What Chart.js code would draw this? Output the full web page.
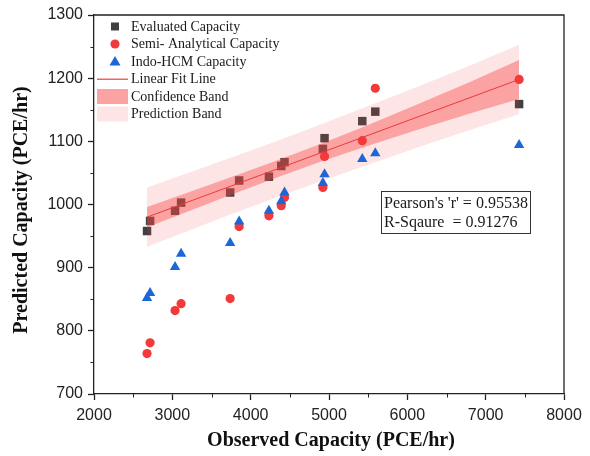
<!DOCTYPE html>
<html><head><meta charset="utf-8">
<script src="https://cdn.jsdelivr.net/npm/chart.js@4.4.0/dist/chart.umd.min.js"></script>
<style>html,body{margin:0;padding:0;background:#fff;}#wrap{width:590px;height:456px;}</style>
</head><body><div id="wrap"><canvas id="c" width="590" height="456"></canvas></div>
<script>
// Observed capacity (x) shared by all three series
const observed   = [2677, 2716, 3035, 3112, 3738, 3853, 4233, 4390, 4432, 4922, 4943, 5425, 5591, 7427];
const evaluated  = [958, 974, 990, 1003, 1019, 1038, 1044, 1061, 1067, 1088, 1105, 1132, 1147, 1159];
const semiAnalytical = [764, 781, 832, 843, 851, 965, 982, 998, 1011, 1027, 1076, 1101, 1184, 1198];
const indoHCM    = [852, 860, 901, 922, 939, 973, 990, 1005, 1019, 1034, 1048, 1072, 1081, 1094];
// Linear fit line and bands
const fitX = [2677, 7427];
const fitY = [980, 1198];
const bandX     = [2677, 3200, 3700, 4300, 4900, 5500, 6100, 6800, 7427];
const confUpper = [996, 1019, 1041, 1068, 1096, 1126, 1157, 1194, 1229];
const confLower = [964, 989, 1013, 1041, 1068, 1093, 1117, 1144, 1167];
const predUpper = [1027, 1050, 1072, 1099, 1127, 1156, 1185, 1220, 1253];
const predLower = [933, 958, 982, 1010, 1037, 1063, 1089, 1118, 1143];
const xTicks = {min: 2000, max: 8000, step: 1000};
const yTicks = {min: 700, max: 1300, step: 100};
const legendLabels = ['Evaluated Capacity', 'Semi- Analytical Capacity', 'Indo-HCM Capacity', 'Linear Fit Line', 'Confidence Band', 'Prediction Band'];
const statLines = ["Pearson's 'r' = 0.95538", "R-Sqaure  = 0.91276"];
const xTitle = 'Observed Capacity (PCE/hr)';
const yTitle = 'Predicted Capacity (PCE/hr)';

const C_EVAL = '#404040', C_SEMI = '#f23a3a', C_INDO = '#1d66d8', C_FIT = '#ec3a3a';
const C_CONF = 'rgba(245,70,70,0.42)', C_PRED = 'rgba(245,70,70,0.14)';
const pts = (xs, ys) => xs.map((x, i) => ({x, y: ys[i]}));
const AXIS = '#222';

const extras = {
  id: 'extras',
  afterDraw(chart) {
    const {ctx, chartArea: a, scales: {x: xs, y: ys}} = chart;
    ctx.save();
    ctx.strokeStyle = AXIS; ctx.lineWidth = 1.3;
    ctx.beginPath();
    ctx.moveTo(a.left, a.top); ctx.lineTo(a.right, a.top); ctx.lineTo(a.right, a.bottom);
    ctx.stroke();
    ctx.lineWidth = 1;
    ctx.beginPath();
    for (let v = xTicks.min + xTicks.step / 2; v < xTicks.max; v += xTicks.step) {
      const px = Math.round(xs.getPixelForValue(v)) + 0.5;
      ctx.moveTo(px, a.bottom); ctx.lineTo(px, a.bottom + 3.5);
    }
    for (let v = yTicks.min + yTicks.step / 2; v < yTicks.max; v += yTicks.step) {
      const py = Math.round(ys.getPixelForValue(v)) + 0.5;
      ctx.moveTo(a.left - 3.5, py); ctx.lineTo(a.left, py);
    }
    ctx.stroke();
    // axis titles
    ctx.fillStyle = '#111';
    ctx.font = 'bold 20px "Liberation Serif", "Times New Roman", serif';
    ctx.textAlign = 'center'; ctx.textBaseline = 'middle';
    ctx.fillText(xTitle, 331, 441);
    ctx.save(); ctx.translate(22, 210); ctx.rotate(-Math.PI / 2); ctx.fillText(yTitle, 0, 0); ctx.restore();
    // legend
    const rows = [26.5, 44, 61.5, 79, 96.5, 114];
    const sx = 115;
    ctx.fillStyle = C_EVAL; ctx.fillRect(sx - 4, rows[0] - 4, 8, 8);
    ctx.fillStyle = C_SEMI; ctx.beginPath(); ctx.arc(sx, rows[1], 4.6, 0, Math.PI * 2); ctx.fill();
    ctx.fillStyle = C_INDO; ctx.beginPath();
    ctx.moveTo(sx, rows[2] - 5.5); ctx.lineTo(sx + 5.5, rows[2] + 4); ctx.lineTo(sx - 5.5, rows[2] + 4); ctx.closePath(); ctx.fill();
    ctx.fillStyle = '#f26464'; ctx.fillRect(97, rows[3] - 0.5, 31, 1.5);
    ctx.fillStyle = C_PRED; ctx.fillRect(97, rows[4] - 7.5, 31, 15); ctx.fillStyle = C_CONF; ctx.fillRect(97, rows[4] - 7.5, 31, 15);
    ctx.fillStyle = C_PRED; ctx.fillRect(97, rows[5] - 7.5, 31, 15);
    ctx.fillStyle = '#1a1a1a';
    ctx.font = '14px "Liberation Serif", "Times New Roman", serif';
    ctx.textAlign = 'left';
    legendLabels.forEach((t, i) => ctx.fillText(t, 131, rows[i] + 0.5));
    // stats box
    ctx.strokeStyle = '#333'; ctx.lineWidth = 1;
    ctx.strokeRect(381.5, 191.5, 149, 42);
    ctx.font = '16px "Liberation Serif", "Times New Roman", serif';
    ctx.fillText(statLines[0], 384, 203.5);
    ctx.fillText(statLines[1], 384, 223);
    ctx.restore();
  }
};

const tickFont = {family: '"Liberation Sans", Arial, sans-serif', size: 16};
new Chart(document.getElementById('c'), {
  type: 'line',
  data: {
    datasets: [
      {label: 'Indo-HCM', data: pts(observed, indoHCM), showLine: false, pointStyle: 'triangle', pointRadius: 6, pointBackgroundColor: C_INDO, pointBorderWidth: 0, borderColor: C_INDO, order: 0},
      {label: 'Semi', data: pts(observed, semiAnalytical), showLine: false, pointStyle: 'circle', pointRadius: 4.6, pointBackgroundColor: C_SEMI, pointBorderWidth: 0, borderColor: C_SEMI, order: 1},
      {label: 'Fit', data: pts(fitX, fitY), borderColor: C_FIT, borderWidth: 1, pointRadius: 0, fill: false, order: 2},
      {label: 'confU', data: pts(bandX, confUpper), borderWidth: 0, pointRadius: 0, backgroundColor: C_CONF, fill: '+1', order: 3},
      {label: 'confL', data: pts(bandX, confLower), borderWidth: 0, pointRadius: 0, fill: false, order: 4},
      {label: 'predU', data: pts(bandX, predUpper), borderWidth: 0, pointRadius: 0, backgroundColor: C_PRED, fill: '+1', order: 5},
      {label: 'predL', data: pts(bandX, predLower), borderWidth: 0, pointRadius: 0, fill: false, order: 6},
      {label: 'Evaluated', data: pts(observed, evaluated), showLine: false, pointStyle: 'rect', pointRadius: 6, pointBackgroundColor: C_EVAL, pointBorderWidth: 0, borderColor: C_EVAL, order: 7}
    ]
  },
  options: {
    responsive: false, animation: false, devicePixelRatio: 1,
    layout: {padding: {left: 0, right: 26, top: 15, bottom: 0}},
    plugins: {legend: {display: false}, tooltip: {enabled: false}},
    scales: {
      x: {type: 'linear', min: xTicks.min, max: xTicks.max,
        ticks: {stepSize: xTicks.step, font: tickFont, color: '#222', padding: 6, maxRotation: 0, callback: v => String(v)},
        grid: {drawOnChartArea: false, tickLength: 6, tickColor: AXIS, tickWidth: 1.3},
        border: {color: AXIS, width: 1.3},
        afterFit(s) { s.height = 62; }},
      y: {type: 'linear', min: yTicks.min, max: yTicks.max,
        ticks: {stepSize: yTicks.step, font: tickFont, color: '#222', padding: 5, callback: v => String(v)},
        grid: {drawOnChartArea: false, tickLength: 6, tickColor: AXIS, tickWidth: 1.3},
        border: {color: AXIS, width: 1.3},
        afterFit(s) { s.width = 94; }}
    }
  },
  plugins: [extras]
});
</script></body></html>
